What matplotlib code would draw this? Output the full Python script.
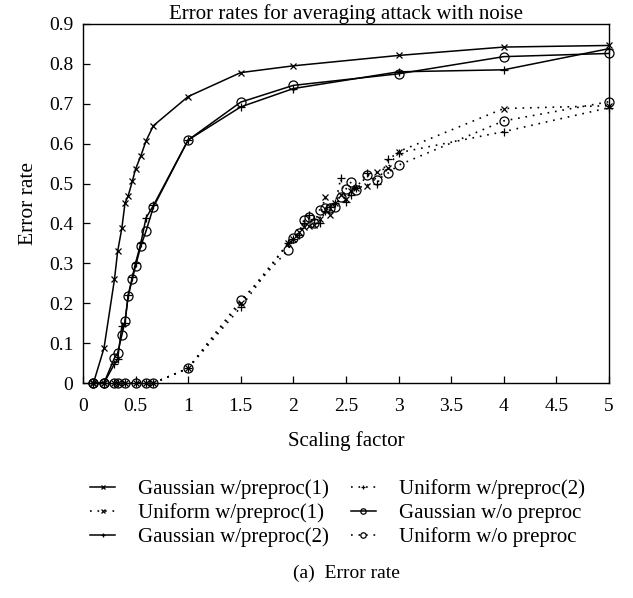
import matplotlib
matplotlib.use("Agg")
import matplotlib.pyplot as plt

plt.rcParams['font.family'] = ['Liberation Serif', 'DejaVu Serif']
plt.rcParams['font.size'] = 12

# scaling factors for the gaussian-noise runs
gauss_x = [0.1, 0.2, 0.3, 0.33, 0.37, 0.4, 0.43, 0.47, 0.5, 0.55, 0.6, 0.67,
           1, 1.5, 2, 3, 4, 5]
gauss_pp1 = [0, 0.087, 0.26, 0.33, 0.388, 0.451, 0.469, 0.506, 0.536, 0.569,
             0.607, 0.645, 0.718, 0.778, 0.795, 0.821, 0.842, 0.846]
gauss_pp2 = [0, 0, 0.048, 0.06, 0.143, 0.15, 0.22, 0.266, 0.30, 0.35,
             0.414, 0.445, 0.609, 0.692, 0.738, 0.78, 0.785, 0.838]
gauss_nopp = [0, 0, 0.063, 0.075, 0.12, 0.155, 0.218, 0.261, 0.293, 0.343,
              0.381, 0.441, 0.609, 0.704, 0.746, 0.775, 0.818, 0.826]

# scaling factors for the uniform-noise runs
unif_x = [0.1, 0.2, 0.3, 0.33, 0.4, 0.5, 0.6, 0.67, 1, 1.5, 1.95, 2, 2.05,
          2.1, 2.15, 2.2, 2.25, 2.3, 2.35, 2.4, 2.45, 2.5, 2.55, 2.6, 2.7,
          2.8, 2.9, 3, 4, 5]
unif_pp1 = [0, 0, 0, 0, 0, 0, 0, 0, 0.037, 0.2, 0.35, 0.36, 0.378, 0.39,
            0.393, 0.396, 0.41, 0.466, 0.42, 0.451, 0.47, 0.46, 0.48, 0.49,
            0.494, 0.53, 0.54, 0.58, 0.688, 0.695]
unif_pp2 = [0, 0, 0, 0, 0, 0, 0, 0, 0.037, 0.19, 0.35, 0.36, 0.37, 0.40,
            0.42, 0.41, 0.40, 0.43, 0.44, 0.45, 0.513, 0.454, 0.47, 0.49,
            0.526, 0.50, 0.561, 0.577, 0.63, 0.69]
unif_nopp = [0, 0, 0, 0, 0, 0, 0, 0, 0.037, 0.207, 0.333, 0.363, 0.376,
             0.408, 0.416, 0.40, 0.434, 0.438, 0.438, 0.441, 0.466, 0.486,
             0.504, 0.484, 0.521, 0.51, 0.526, 0.546, 0.657, 0.705]

fig = plt.figure(figsize=(6.33, 5.98), dpi=100)
ax = fig.add_axes([0.131, 0.3595, 0.831, 0.6005])

dots = (0, (1, 3.5))
kw = dict(color="k", clip_on=False, markerfacecolor="none", markeredgewidth=0.9)
ax.plot(gauss_x, gauss_pp1, "-", marker="x", ms=4.5, lw=1.1,
        label="Gaussian w/preproc(1)", **kw)
ax.plot(unif_x, unif_pp1, ls=dots, marker="x", ms=4.5, lw=1.2,
        label="Uniform w/preproc(1)", **kw)
ax.plot(gauss_x, gauss_pp2, "-", marker="+", ms=6, lw=1.1,
        label="Gaussian w/preproc(2)", **kw)
ax.plot(unif_x, unif_pp2, ls=dots, marker="+", ms=6, lw=1.2,
        label="Uniform w/preproc(2)", **kw)
ax.plot(gauss_x, gauss_nopp, "-", marker="o", ms=6.5, lw=1.1,
        label="Gaussian w/o preproc", **kw)
ax.plot(unif_x, unif_nopp, ls=dots, marker="o", ms=6.5, lw=1.2,
        label="Uniform w/o preproc", **kw)

ax.set_xlim(0, 5)
ax.set_ylim(0, 0.9)
ax.set_xticks([0, 0.5, 1, 1.5, 2, 2.5, 3, 3.5, 4, 4.5, 5])
ax.set_xticklabels(["0", "0.5", "1", "1.5", "2", "2.5", "3", "3.5", "4", "4.5", "5"])
ax.set_yticks([0, 0.1, 0.2, 0.3, 0.4, 0.5, 0.6, 0.7, 0.8, 0.9])
ax.set_yticklabels(["0", "0.1", "0.2", "0.3", "0.4", "0.5", "0.6", "0.7", "0.8", "0.9"])
ax.tick_params(direction="in", length=5, width=0.9, top=False, right=False,
               labelsize=14)
ax.tick_params(axis="x", pad=10.5)
ax.tick_params(axis="y", pad=7)
for s in ax.spines.values():
    s.set_linewidth(1.0)

ax.set_title("Error rates for averaging attack with noise", fontsize=15, pad=1)
ax.set_xlabel("Scaling factor", fontsize=15, labelpad=12)
ax.set_ylabel("Error rate", fontsize=15.5, labelpad=8)

handles, labels = ax.get_legend_handles_labels()
leg = fig.legend(handles, labels, ncol=2, loc="center",
                 bbox_to_anchor=(0.533, 0.142), frameon=False, fontsize=15,
                 handlelength=1.2, handletextpad=1.1, columnspacing=1.05,
                 labelspacing=0.2, numpoints=1, markerscale=0.6)

fig.text(0.547, 0.041, "(a)  Error rate", ha="center", va="center", fontsize=14)

fig.savefig("out.png", dpi=100)
